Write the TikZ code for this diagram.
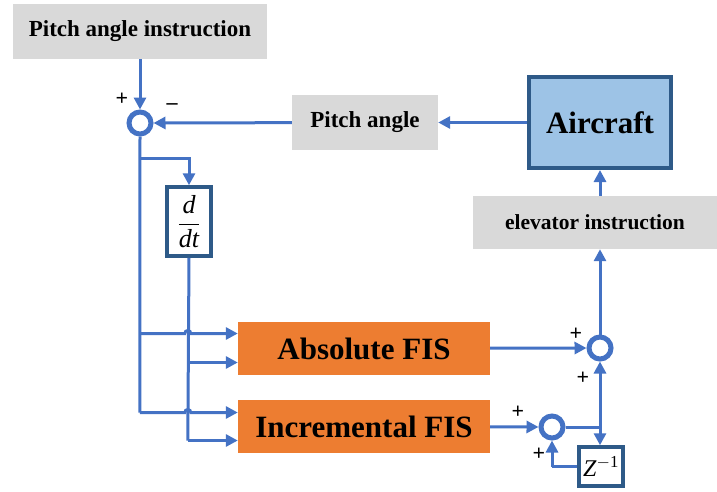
\documentclass[tikz,border=0pt]{standalone}
\usepackage{fontspec}
\setmainfont{Liberation Serif}
\usetikzlibrary{arrows.meta,calc}
\definecolor{lnblue}{HTML}{4472C4}
\definecolor{boxgray}{HTML}{D9D9D9}
\definecolor{orangefis}{HTML}{ED7D31}
\definecolor{acfill}{HTML}{9DC3E6}
\definecolor{darkborder}{HTML}{2E5A88}
\begin{document}
\begin{tikzpicture}[x=1pt,y=-1pt,
  graybox/.style={fill=boxgray,draw=none,minimum width=#1,minimum height=55pt,inner sep=0pt,font=\fontsize{23}{26}\selectfont\bfseries},
  fisbox/.style={fill=orangefis,draw=none,minimum width=252pt,minimum height=53pt,inner sep=0pt,font=\fontsize{31}{34}\selectfont\bfseries},
  sumnode/.style={circle,draw=lnblue,line width=5pt,fill=white,minimum size=22pt,inner sep=0pt},
  opbox/.style={draw=darkborder,line width=3.5pt,fill=white,inner sep=0pt},
  conn/.style={draw=lnblue,line width=3pt},
  arr/.style={conn,-{Triangle[length=12pt,width=12pt]}},
  sign/.style={font=\fontsize{22}{22}\selectfont\bfseries,inner sep=0pt}
]
\useasboundingbox (0,0) rectangle (717,491);

\node[graybox=254pt] (pai) at (140,31.5) {Pitch angle instruction};
\node[sumnode] (s1) at (140,123) {};
\node[graybox=146pt] (pa) at (365,122.5) {Pitch angle};
\node[draw=darkborder,line width=4pt,fill=acfill,minimum width=142pt,minimum height=91pt,inner sep=0pt,font=\fontsize{31}{34}\selectfont\bfseries] (ac) at (600,122.5) {Aircraft};
\node[graybox=244pt,minimum height=53pt,font=\fontsize{21.5}{24}\selectfont\bfseries] (ei) at (595,222.5) {elevator instruction};
\node[opbox,minimum width=44pt,minimum height=69pt] (dd) at (189,221.5) {\fontsize{26}{28}\selectfont$\displaystyle\frac{\textit{d}}{\textit{dt}}$};
\node[fisbox] (ab) at (364,348.5) {Absolute FIS};
\node[fisbox] (inc) at (364,426.5) {Incremental FIS};
\node[sumnode] (s2) at (600,348) {};
\node[sumnode] (s3) at (552,427) {};
\node[opbox,minimum width=44pt,minimum height=39pt] (z) at (601,466.5) {\fontsize{24}{26}\selectfont\textit{Z}$^{\mathrm{-1}}$};

% signs
\node[sign] (p1) at (122,99) {+};
\node[sign] (m1) at (172,107) {\textendash};
\node[sign] (p2) at (576,334) {+};
\node[sign] (p3) at (583,378) {+};
\node[sign] (p4) at (518,412) {+};
\node[sign] (p5) at (539,454) {+};

% top loop
\draw[arr] (pai) -- (s1);
\draw[arr] (pa) -- (s1);
\draw[arr] (ac) -- (pa);
\draw[arr] (ac.south |- ei.north) -- (ac.south);
\draw[arr] (s2) -- (s2 |- ei.south);

% error trunk
\coordinate (b1) at ($(s1.south)+(0,22)$);
\coordinate (ddx) at (dd.north |- b1);
\draw[conn] (s1.south) -- ($(inc.west)+(-98,-14)$);
\draw[arr] (b1) -- (ddx) -- (dd.north);
\draw[arr] ($(ab.west)+(-98,-15)$) -- ($(ab.west)+(-53,-15)$) arc (180:360:3) -- ($(ab.west)+(0,-15)$);
\draw[arr] ($(inc.west)+(-98,-14)$) -- ($(inc.west)+(-53,-14)$) arc (180:360:3) -- ($(inc.west)+(0,-14)$);

% derivative trunk
\draw[conn] (dd.south) -- ($(inc.west)+(-50,14)$);
\draw[arr] ($(ab.west)+(-50,14)$) -- ($(ab.west)+(0,14)$);
\draw[arr] ($(inc.west)+(-50,14)$) -- ($(inc.west)+(0,14)$);

% outputs
\draw[arr] (ab) -- (s2);
\draw[arr] (inc) -- (s3);
\coordinate (j) at (s2 |- s3);
\draw[conn] (s3) -- (j);
\draw[arr] (j) -- (s2);
\draw[arr] (j) -- (z.north -| j);
\coordinate (zl) at (s3 |- z.west);
\draw[conn] (z.west) -- (zl);
\draw[arr] (zl) -- (s3);
\end{tikzpicture}
\end{document}
